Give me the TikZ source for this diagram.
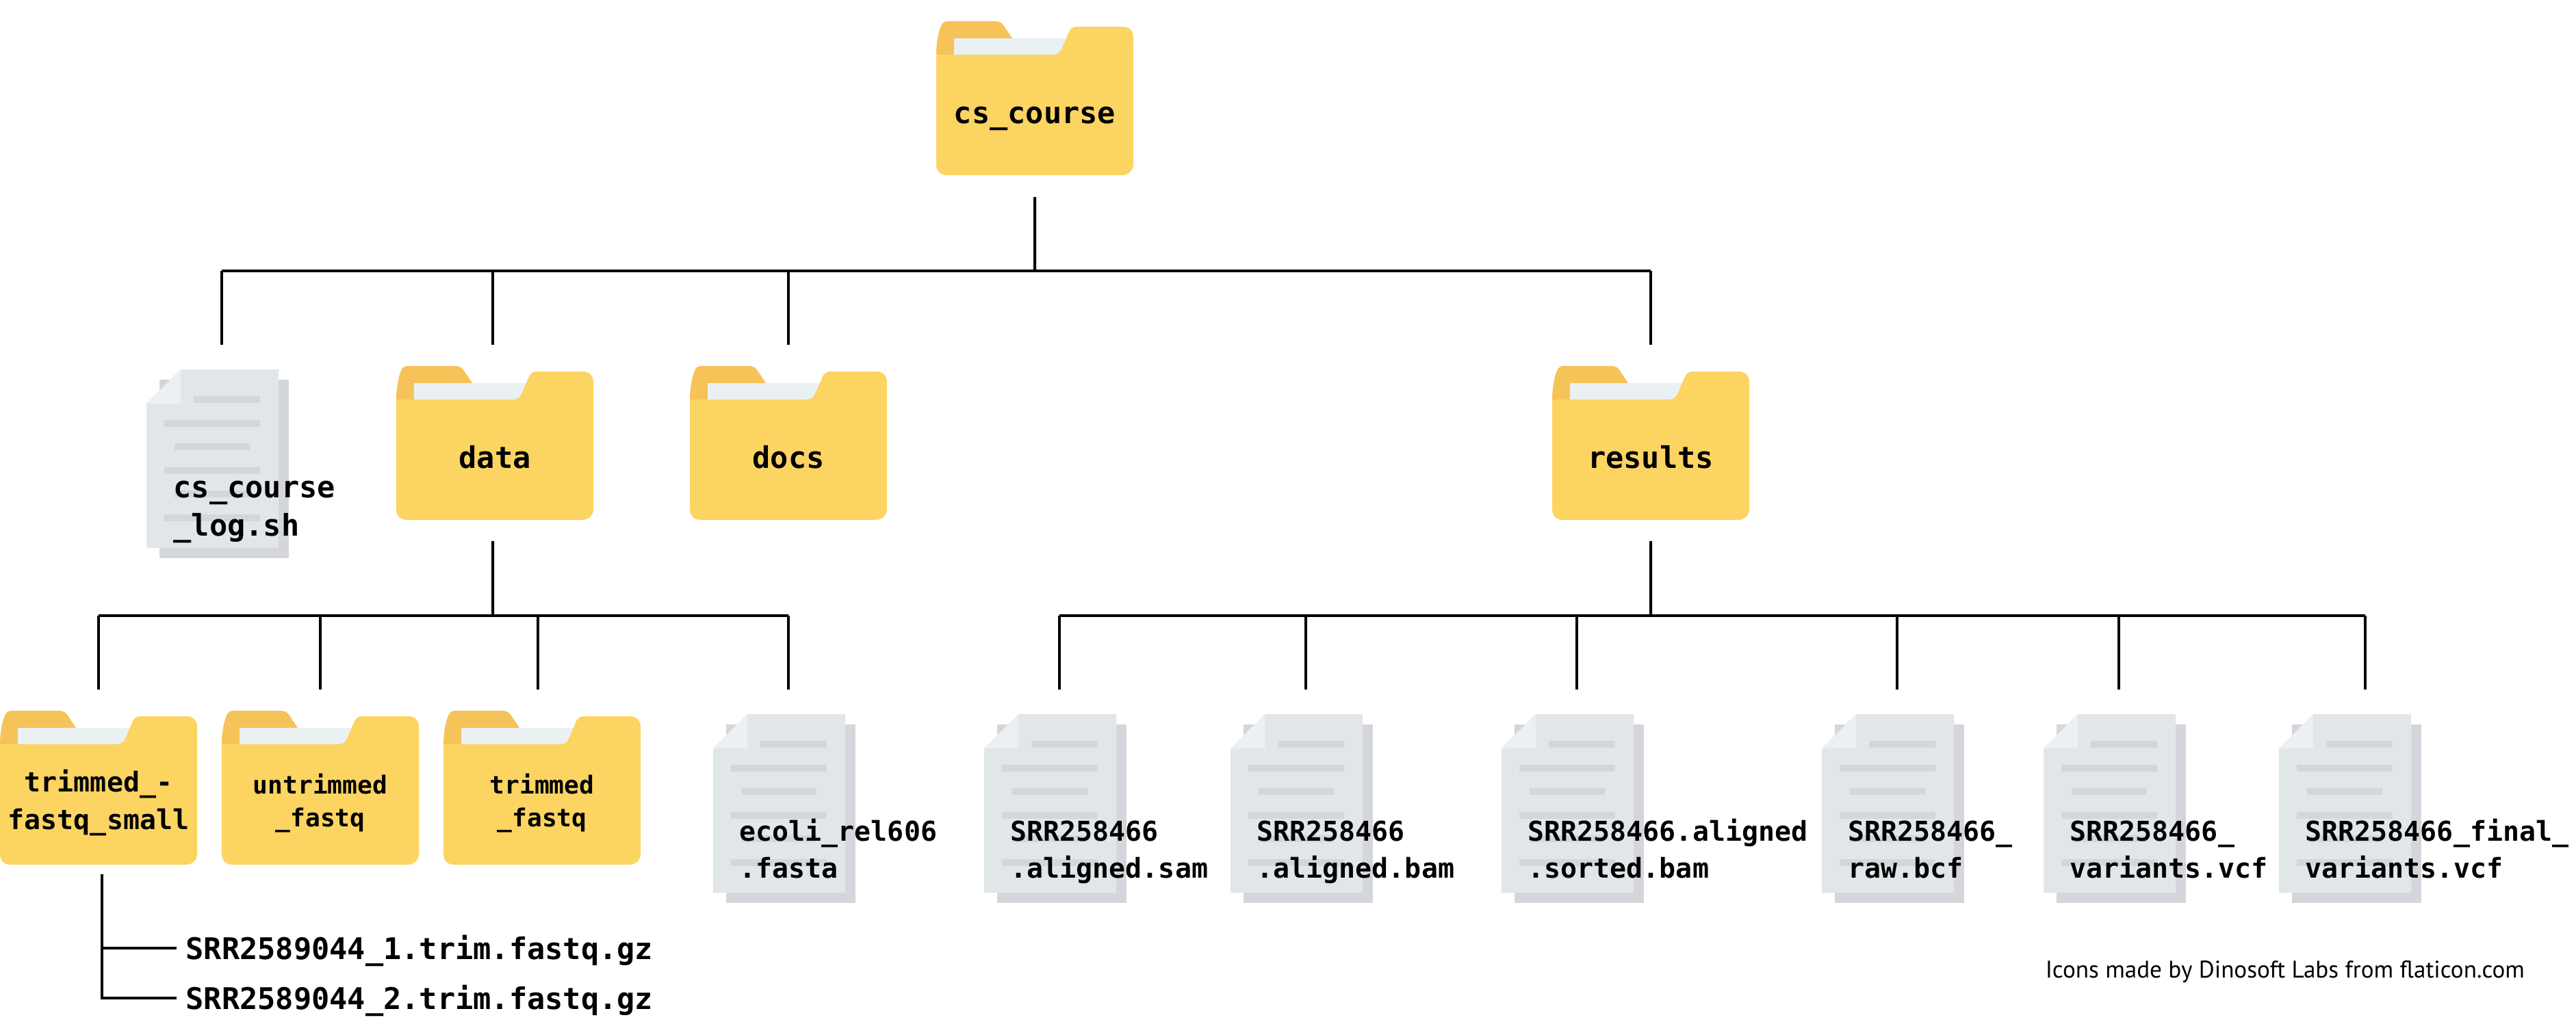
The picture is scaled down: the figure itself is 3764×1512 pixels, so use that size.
\documentclass[tikz,border=0pt]{standalone}
\usepackage{fontspec}
\usepackage{xcolor}
\setmonofont{DejaVu Sans Mono}
\newfontfamily\creditfont{PT Sans}
\usetikzlibrary{positioning}
\definecolor{foldermain}{HTML}{FCD462}
\definecolor{foldertab}{HTML}{F6C358}
\definecolor{paperlight}{HTML}{EBF0F3}
\definecolor{papermain}{HTML}{E1E6E9}
\definecolor{papershade}{HTML}{D5D6DB}

\begin{document}
\begin{tikzpicture}[
  x=0.01cm, y=-0.01cm,
  folder_icon/.pic={
    \fill[foldertab] (0,49) .. controls (0,30) and (4,14) .. (7,7) .. controls (9,2) and (12,0) .. (17,0) -- (86,0) .. controls (92,0) and (96,2) .. (99,7) -- (111,25) -- (111,49) -- cycle;
    \fill[paperlight] (26,25) rectangle (200,49);
    \fill[foldermain] (0,49) -- (170,49) .. controls (176,49) and (180,47) .. (183,41) -- (192,20) .. controls (195,11) and (199,8) .. (206,8) -- (272,8) .. controls (282,8) and (288,14) .. (288,24) -- (288,209) .. controls (288,219) and (280,225) .. (272,225) -- (16,225) .. controls (6,225) and (0,219) .. (0,209) -- cycle;
  },
  file_icon/.pic={
    \fill[papershade] (19,15) rectangle (208,276);
    \fill[papermain] (50,0) -- (193,0) -- (193,261) -- (0,261) -- (0,50) -- cycle;
    \fill[paperlight] (0,50) -- (50,0) -- (50,50) -- cycle;
    \foreach \a/\b/\c in {69/166/39, 26/166/74, 41/151/108, 26/166/143, 41/151/177, 26/166/212}{
      \fill[papershade] (\a,\c) rectangle (\b,\c+10);
    }
  },
  folder/.style={rectangle, anchor=north west, minimum width=2.88cm, minimum height=2.25cm, inner sep=0pt, outer sep=0pt},
  fileicon/.style={rectangle, anchor=north west, minimum width=2.2cm, minimum height=2.76cm, inner sep=0pt, outer sep=0pt},
  folder_label/.style={anchor=base, inner sep=0pt, align=center, font=\fontsize{12.4}{15}\selectfont\ttfamily\bfseries},
  wide_label/.style={folder_label, font=\fontsize{11.35}{15.4}\selectfont\ttfamily\bfseries},
  narrow_label/.style={folder_label, font=\fontsize{10.3}{13.7}\selectfont\ttfamily\bfseries},
  file_label/.style={anchor=base west, inner sep=0pt, align=left, font=\fontsize{11.35}{15.1}\selectfont\ttfamily\bfseries},
  trim_file/.style={anchor=base west, inner xsep=0.13cm, inner ysep=0pt, text height=0.42cm, text depth=0.1cm, font=\fontsize{12.4}{15}\selectfont\ttfamily\bfseries},
  credit/.style={anchor=base west, inner sep=0pt, font=\fontsize{10}{12}\selectfont\creditfont},
  link/.style={draw=black, line width=1.14pt}
]
\useasboundingbox (0,0) rectangle (3764,1512);

% folders
\foreach \x/\y/\name/\txt in {1368/31/root/cs\_course, 579/535/data/data, 1008/535/docs/docs, 2268/535/results/results}{
  \pic at (\x,\y) {folder_icon};
  \node[folder] (\name) at (\x,\y) {};
  \node[folder_label] (\name_label) at ([yshift=-0.365cm]\name.center) {\txt};
}
\pic at (0,1039) {folder_icon};
\node[folder] (small) at (0,1039) {};
\node[wide_label] (small_label) at (144,1212) {trimmed\_-\\fastq\_small};
\foreach \x/\name/\txt in {324/untrimmed/untrimmed\\\_fastq, 648/trimmed/trimmed\\\_fastq}{
  \pic at (\x,1039) {folder_icon};
  \node[folder] (\name) at (\x,1039) {};
  \node[narrow_label] (\name_label) at ([yshift=-0.57cm]\name.center) {\txt};
}

% files
\pic at (214,540) {file_icon};
\node[fileicon] (log) at (214,540) {};
\node[file_label, font=\fontsize{12.4}{15.9}\selectfont\ttfamily\bfseries] (log_label) at (253,783) {cs\_course\\\_log.sh};
\foreach \x/\name/\txt in {1042/ecoli/ecoli\_rel606\\.fasta, 1438/sam/SRR258466\\.aligned.sam, 1798/bam/SRR258466\\.aligned.bam, 2194/sorted/SRR258466.aligned\\.sorted.bam, 2662/raw/SRR258466\_\\raw.bcf, 2986/vcf/SRR258466\_\\variants.vcf, 3330/final/SRR258466\_final\_\\variants.vcf}{
  \pic at (\x,1044) {file_icon};
  \node[fileicon] (\name) at (\x,1044) {};
  \node[file_label] (\name_label) at (\x+38,1283) {\txt};
}

% top level
\coordinate (bus_top) at (1512,396);
\draw[link, shorten <=0.32cm] (root.south) -- (bus_top);
\draw[link] (log.north |- bus_top) -- (results.north |- bus_top);
\foreach \name/\gap in {log/0.36cm, docs/0.31cm, results/0.31cm}{
  \draw[link, shorten >=\gap] (\name.north |- bus_top) -- (\name.north);
}
\draw[link, shorten >=0.31cm] ([xshift=-0.03cm]data.north |- bus_top) -- ([xshift=-0.03cm]data.north);

% data
\coordinate (bus_data) at (720,900);
\draw[link, shorten <=0.31cm] ([xshift=-0.03cm]data.south) -- (bus_data);
\draw[link] (small.north |- bus_data) -- (ecoli.north |- bus_data);
\foreach \name/\gap in {small/0.31cm, untrimmed/0.31cm, ecoli/0.36cm}{
  \draw[link, shorten >=\gap] (\name.north |- bus_data) -- (\name.north);
}
\draw[link, shorten >=0.31cm] ([xshift=-0.06cm]trimmed.north |- bus_data) -- ([xshift=-0.06cm]trimmed.north);

% results
\coordinate (bus_results) at (2412,900);
\draw[link, shorten <=0.31cm] (results.south) -- (bus_results);
\draw[link] (sam.north |- bus_results) -- ([xshift=0.16cm]final.north |- bus_results);
\foreach \name in {sam, bam, sorted, raw, vcf}{
  \draw[link, shorten >=0.36cm] (\name.north |- bus_results) -- (\name.north);
}
\draw[link, shorten >=0.36cm] ([xshift=0.16cm]final.north |- bus_results) -- ([xshift=0.16cm]final.north);

% trimmed reads
\node[trim_file] (read1) at (258,1402) {SRR2589044\_1.trim.fastq.gz};
\node[trim_file] (read2) at (258,1475) {SRR2589044\_2.trim.fastq.gz};
\coordinate (read_top) at (149,1278);
\draw[link] (read_top) |- (read1.west);
\draw[link] (read_top) |- (read2.west);

\node[credit] (credit_text) at (2988,1429) {Icons made by Dinosoft Labs from flaticon.com};
\end{tikzpicture}
\end{document}
